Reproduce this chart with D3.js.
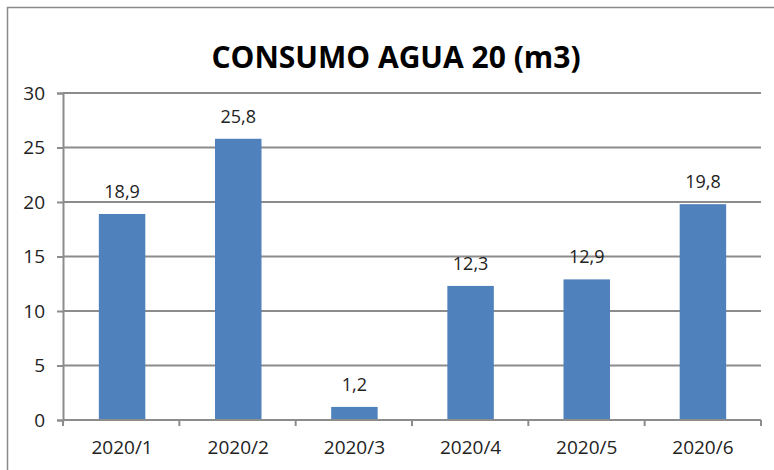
<!DOCTYPE html>
<html><head><meta charset="utf-8">
<script src="https://cdn.jsdelivr.net/npm/d3@7"></script>
<style>body{margin:0;background:#fff}svg{display:block}text{font-family:"Open Sans",sans-serif;fill:#222}</style>
</head><body><svg id="c" width="774" height="470"></svg>
<script>
const categories = ["2020/1","2020/2","2020/3","2020/4","2020/5","2020/6"];
const values = [18.9, 25.8, 1.2, 12.3, 12.9, 19.8];
const yTicks = [0,5,10,15,20,25,30];
const title = "CONSUMO AGUA 20 (m3)";

const svg = d3.select("#c");
const W = 774, H = 470;
const m = {l:63, r:13, t:93, b:50};
svg.append("rect").attr("x",7.5).attr("y",7.5).attr("width",W+10).attr("height",H+10)
  .attr("fill","#fff").attr("stroke","#8a8a8a").attr("stroke-width",1.5);

const x = d3.scaleBand().domain(categories).range([m.l+1, W-m.r]).paddingInner(0.6).paddingOuter(0.3);
const y = d3.scaleLinear().domain([0,30]).range([H-m.b, m.t]);

// gridlines
svg.append("g").selectAll("line").data(yTicks.filter(d=>d>0)).join("line")
  .attr("x1",m.l).attr("x2",W-m.r).attr("y1",d=>y(d)).attr("y2",d=>y(d))
  .attr("stroke","#8c8c8c").attr("stroke-width",2);

// y axis
const ya = svg.append("g").attr("transform",`translate(${m.l},0)`)
  .call(d3.axisLeft(y).tickValues(yTicks).tickSize(6).tickPadding(12));
ya.select(".domain").attr("stroke","#8c8c8c").attr("stroke-width",2);
ya.selectAll(".tick line").attr("stroke","#8c8c8c").attr("stroke-width",2);
ya.selectAll("text").style("font-size","19px").style("font-family","Open Sans").attr("fill","#222");

// bars
svg.append("g").selectAll("rect").data(values).join("rect")
  .attr("x",(d,i)=>x(categories[i])).attr("width",x.bandwidth())
  .attr("y",d=>y(d)).attr("height",d=>y(0)-y(d)).attr("fill","#4f81bd");

// x axis
const xa = svg.append("g").attr("transform",`translate(0,${y(0)})`)
  .call(d3.axisBottom(x).tickSize(0).tickPadding(21));
xa.select(".domain").remove();
xa.selectAll("text").style("font-size","19px").style("font-family","Open Sans").attr("fill","#222");
const bounds = d3.range(categories.length+1).map(i=> m.l + i*(W-m.r-m.l)/categories.length);
svg.append("line").attr("x1",m.l).attr("x2",W-m.r).attr("y1",y(0)).attr("y2",y(0))
  .attr("stroke","#8c8c8c").attr("stroke-width",2);
svg.append("g").selectAll("line").data(bounds).join("line")
  .attr("x1",d=>d).attr("x2",d=>d).attr("y1",y(0)).attr("y2",y(0)+6)
  .attr("stroke","#8c8c8c").attr("stroke-width",2);

// data labels
svg.append("g").selectAll("text").data(values).join("text")
  .attr("x",(d,i)=>x(categories[i])+x.bandwidth()/2).attr("y",d=>y(d)-16)
  .attr("text-anchor","middle").style("font-size","18px")
  .text(d=>d3.format(".1f")(d).replace(".",","));

// title
svg.append("text").attr("x",396).attr("y",68).attr("text-anchor","middle")
  .style("font-size","30px").style("font-weight","bold").style("fill","#000")
  .text(title);
</script></body></html>
